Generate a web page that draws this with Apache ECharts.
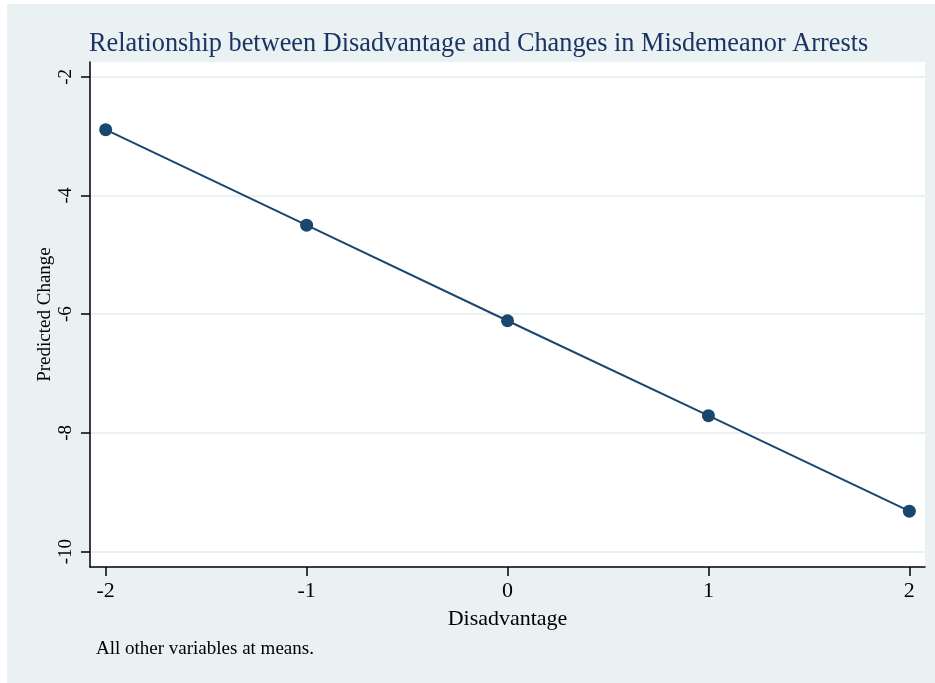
<!DOCTYPE html>
<html><head><meta charset="utf-8">
<script src="https://cdn.jsdelivr.net/npm/echarts@6/dist/echarts.min.js"></script>
<style>
html,body{margin:0;padding:0;background:#fff;}
#bg{position:absolute;left:7px;top:4px;width:928px;height:679px;background:#eaf1f3;}
#chart{position:absolute;left:0;top:0;width:935px;height:683px;}
</style></head>
<body><div id="bg"></div><div id="chart"></div>
<script>
const disadvantage = [-2, -1, 0, 1, 2];
const predictedChange = [-2.89, -4.50, -6.11, -7.71, -9.32];
const xTicks = [-2, -1, 0, 1, 2];
const yTicks = [-10, -8, -6, -4, -2];
const titleText = 'Relationship between Disadvantage and Changes in Misdemeanor Arrests';
const xTitle = 'Disadvantage';
const yTitle = 'Predicted Change';
const noteText = 'All other variables at means.';

const FONT = '"Liberation Serif", "Times New Roman", serif';
const chart = echarts.init(document.getElementById('chart'), null, {renderer: 'canvas'});
chart.setOption({
  animation: false,
  backgroundColor: 'transparent',
  title: {
    text: titleText, left: 89, top: 31, padding: 0,
    textStyle: {fontFamily: FONT, fontSize: 26.3, fontWeight: 'normal', color: '#1c3463'}
  },
  grid: {left: 90, right: 10, top: 62, bottom: 116, show: true, backgroundColor: '#fff', borderWidth: 0},
  xAxis: {
    type: 'value', min: -2.078, max: 2.078,
    name: xTitle, nameLocation: 'middle', nameGap: 41, nameMoveOverlap: false,
    nameTextStyle: {fontFamily: FONT, fontSize: 22, color: '#000'},
    axisLine: {show: true, onZero: false, lineStyle: {color: '#000', width: 1.5}},
    axisTick: {show: true, length: 9, customValues: xTicks, lineStyle: {color: '#000', width: 1.5}},
    axisLabel: {customValues: xTicks, margin: 13, fontFamily: FONT, fontSize: 22, color: '#000',
      formatter: v => String(v)},
    splitLine: {show: false}
  },
  yAxis: {
    type: 'value', min: -10.26, max: -1.75,
    name: yTitle, nameLocation: 'middle', nameGap: 35, nameRotate: 90, nameMoveOverlap: false,
    nameTextStyle: {fontFamily: FONT, fontSize: 19, color: '#000'},
    axisLine: {show: true, onZero: false, lineStyle: {color: '#000', width: 1.5}},
    axisTick: {show: true, length: 9, customValues: yTicks, lineStyle: {color: '#000', width: 1.5}},
    axisLabel: {customValues: yTicks, rotate: 90, margin: 14, fontFamily: FONT, fontSize: 19, color: '#000',
      formatter: v => String(v)},
    splitLine: {show: true, lineStyle: {color: '#eaf1f3', width: 2}}
  },
  graphic: [{
    type: 'text', left: 96, top: 640,
    style: {text: noteText, fontFamily: FONT, fontSize: 19, fill: '#000'}
  }],
  series: [{
    type: 'line',
    data: disadvantage.map((x, i) => [x, predictedChange[i]]),
    symbol: 'circle', symbolSize: 13,
    lineStyle: {color: '#1a476f', width: 2},
    itemStyle: {color: '#1a476f'}
  }]
});
</script></body></html>
